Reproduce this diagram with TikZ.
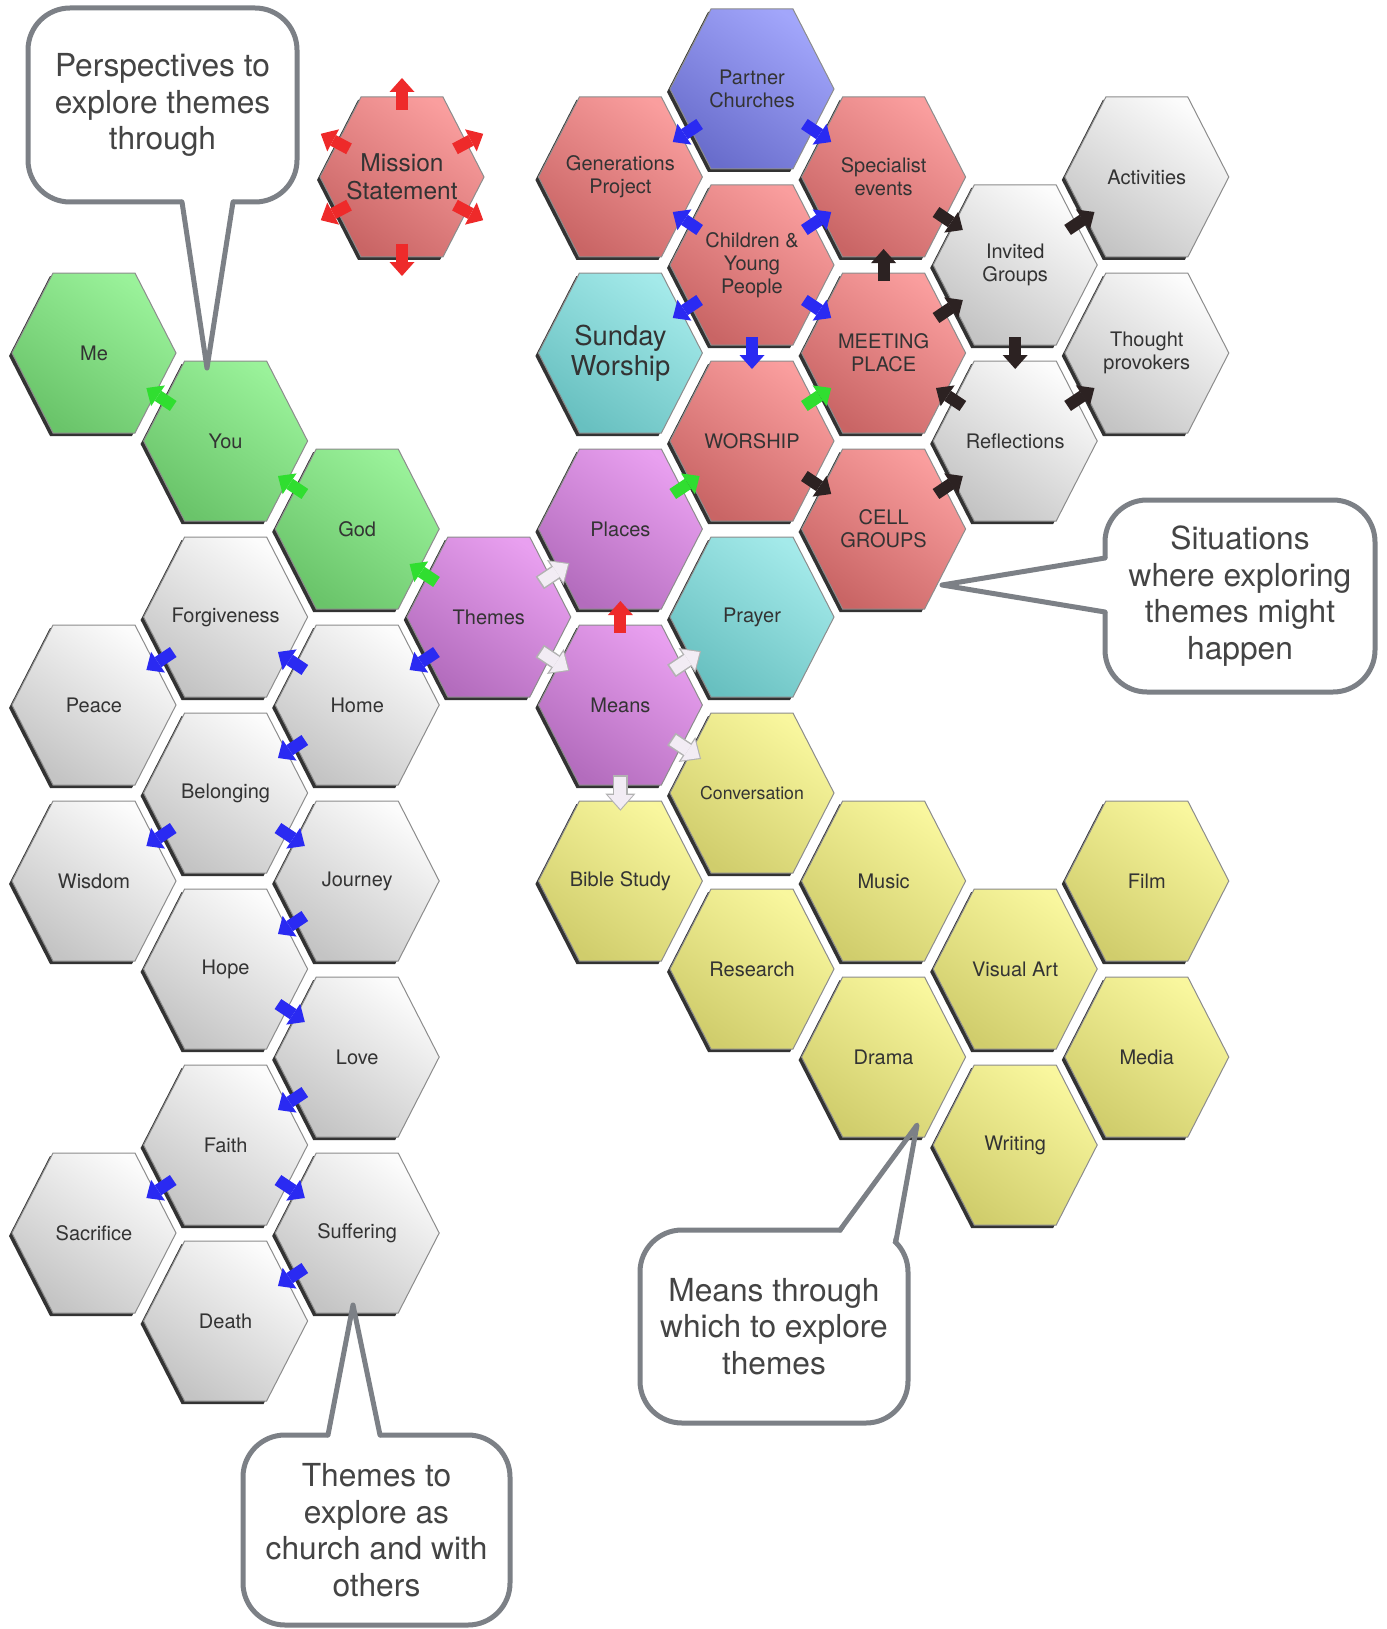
\documentclass[tikz,border=0pt]{standalone}
\usepackage{fontspec}
\setmainfont{TeX Gyre Heros}
\usepackage{tikz}
\usetikzlibrary{arrows.meta, shapes.symbols, shadows, calc}
\usepackage{xcolor}

\definecolor{greenTop}{HTML}{9AF29A}
\definecolor{greenBot}{HTML}{6AC46A}
\definecolor{greyTop}{HTML}{FCFCFC}
\definecolor{greyBot}{HTML}{C4C4C4}
\definecolor{purpleTop}{HTML}{E9A0F0}
\definecolor{purpleBot}{HTML}{B36CBD}
\definecolor{redTop}{HTML}{FA9E9E}
\definecolor{redBot}{HTML}{C96565}
\definecolor{blueTop}{HTML}{A2A6FB}
\definecolor{blueBot}{HTML}{696DCC}
\definecolor{tealTop}{HTML}{A4EAEA}
\definecolor{tealBot}{HTML}{68C0C0}
\definecolor{yellowTop}{HTML}{F9F79E}
\definecolor{yellowBot}{HTML}{D0CD6C}
\definecolor{noteGrey}{HTML}{7C8086}
\definecolor{noteText}{HTML}{444444}
\definecolor{linkBlue}{HTML}{2A2AF2}
\definecolor{linkGreen}{HTML}{30DE30}
\definecolor{linkRed}{HTML}{EE2A2A}
\definecolor{linkBlack}{HTML}{2C2222}
\definecolor{linkWhite}{HTML}{F2ECF4}

\begin{document}
\begin{tikzpicture}[x=1pt, y=-1pt,
    hex/.style={shape=signal, signal to=east and west, signal pointer angle=125.7,
      minimum width=164pt, minimum height=160pt, inner sep=0pt, outer sep=0pt,
      draw=black!45, line width=1pt,
      drop shadow={shadow xshift=-3pt, shadow yshift=-3pt, opacity=.8, fill=black}},
    greenhex/.style={hex, top color=greenTop, bottom color=greenBot, shading angle=-35},
    greyhex/.style={hex, top color=greyTop, bottom color=greyBot, shading angle=-35},
    purplehex/.style={hex, top color=purpleTop, bottom color=purpleBot, shading angle=-35},
    redhex/.style={hex, top color=redTop, bottom color=redBot, shading angle=-35},
    bluehex/.style={hex, top color=blueTop, bottom color=blueBot, shading angle=-35},
    tealhex/.style={hex, top color=tealTop, bottom color=tealBot, shading angle=-35},
    yellowhex/.style={hex, top color=yellowTop, bottom color=yellowBot, shading angle=-35},
    hexlabel/.style={font=\fontsize{20}{23}\selectfont, text=black!80, align=center, inner sep=0pt},
    link/.style={color=#1, line width=12pt, shorten <=63pt, shorten >=63pt,
      -{Triangle[width=25pt, length=14pt, line width=0pt]}},
    vert/.style={shorten <=72pt, shorten >=72pt},
    outline/.style={color=black!30, line width=15pt, shorten <=61.3pt, shorten >=61.3pt,
      -{Triangle[width=30pt, length=17pt, line width=0pt]}},
    note/.style={draw=noteGrey, line width=5pt, rounded corners=42pt, fill=white,
      text=noteText, align=center, font=\fontsize{31.7}{36.5}\selectfont,
      inner sep=0pt, outer sep=0pt},
    tail/.style={draw=noteGrey, line width=5pt, line join=round, line cap=round}]

  \path[use as bounding box, fill=white] (0,0) rectangle (1386,1629);

  % perspectives
  \node[greenhex, label={[hexlabel]center:Me}] (me) at (94,353) {};
  \node[greenhex, label={[hexlabel]center:You}] (you) at (225.6,441) {};
  \node[greenhex, label={[hexlabel]center:God}] (god) at (357.2,529) {};

  % themes
  \node[greyhex, label={[hexlabel]center:Forgiveness}] (forgiveness) at (225.6,617) {};
  \node[greyhex, label={[hexlabel]center:Peace}] (peace) at (94,705) {};
  \node[greyhex, label={[hexlabel]center:Home}] (home) at (357.2,705) {};
  \node[greyhex, label={[hexlabel]center:Belonging}] (belonging) at (225.6,793) {};
  \node[greyhex, label={[hexlabel]center:Wisdom}] (wisdom) at (94,881) {};
  \node[greyhex, label={[hexlabel]center:Journey}] (journey) at (357.2,881) {};
  \node[greyhex, label={[hexlabel]center:Hope}] (hope) at (225.6,969) {};
  \node[greyhex, label={[hexlabel]center:Love}] (love) at (357.2,1057) {};
  \node[greyhex, label={[hexlabel]center:Faith}] (faith) at (225.6,1145) {};
  \node[greyhex, label={[hexlabel]center:Sacrifice}] (sacrifice) at (94,1233) {};
  \node[greyhex, label={[hexlabel]center:Suffering}] (suffering) at (357.2,1233) {};
  \node[greyhex, label={[hexlabel]center:Death}] (death) at (225.6,1321) {};

  % hub
  \node[purplehex, label={[hexlabel]center:Themes}] (themes) at (488.8,617) {};
  \node[purplehex, label={[hexlabel]center:Places}] (places) at (620.4,529) {};
  \node[purplehex, label={[hexlabel]center:Means}] (means) at (620.4,705) {};

  % situations
  \node[redhex, label={[hexlabel, font=\fontsize{24.5}{28}\selectfont]center:Mission\\Statement}] (mission) at (402,177) {};
  \node[bluehex, label={[hexlabel]center:Partner\\Churches}] (partner) at (752,89) {};
  \node[redhex, label={[hexlabel]center:Generations\\Project}] (generations) at (620.4,177) {};
  \node[redhex, label={[hexlabel]center:Specialist\\events}] (specialist) at (883.6,177) {};
  \node[redhex, label={[hexlabel]center:Children \&\\Young\\People}] (children) at (752,265) {};
  \node[tealhex, label={[hexlabel, font=\fontsize{27.4}{30}\selectfont]center:Sunday\\Worship}] (sunday) at (620.4,353) {};
  \node[redhex, label={[hexlabel]center:MEETING\\PLACE}] (meeting) at (883.6,353) {};
  \node[redhex, label={[hexlabel]center:WORSHIP}] (worship) at (752,441) {};
  \node[redhex, label={[hexlabel]center:CELL\\GROUPS}] (cell) at (883.6,529) {};
  \node[tealhex, label={[hexlabel]center:Prayer}] (prayer) at (752,617) {};
  \node[greyhex, label={[hexlabel]center:Activities}] (activities) at (1146.8,177) {};
  \node[greyhex, label={[hexlabel]center:Invited\\Groups}] (invited) at (1015.2,265) {};
  \node[greyhex, label={[hexlabel]center:Thought\\provokers}] (thought) at (1146.8,353) {};
  \node[greyhex, label={[hexlabel]center:Reflections}] (reflections) at (1015.2,441) {};

  % means
  \node[yellowhex, label={[hexlabel, font=\fontsize{17.7}{20}\selectfont]center:Conversation}] (conversation) at (752,793) {};
  \node[yellowhex, label={[hexlabel]center:Bible Study}] (biblestudy) at (620.4,881) {};
  \node[yellowhex, label={[hexlabel]center:Music}] (music) at (883.6,881) {};
  \node[yellowhex, label={[hexlabel]center:Film}] (film) at (1146.8,881) {};
  \node[yellowhex, label={[hexlabel]center:Research}] (research) at (752,969) {};
  \node[yellowhex, label={[hexlabel]center:Visual Art}] (visualart) at (1015.2,969) {};
  \node[yellowhex, label={[hexlabel]center:Drama}] (drama) at (883.6,1057) {};
  \node[yellowhex, label={[hexlabel]center:Media}] (media) at (1146.8,1057) {};
  \node[yellowhex, label={[hexlabel]center:Writing}] (writing) at (1015.2,1145) {};

  % links
  \path[link=linkGreen]
    (you.center) edge (me.center)
    (god.center) edge (you.center)
    (themes.center) edge (god.center)
    (places.center) edge (worship.center)
    (worship.center) edge (meeting.center);

  \path[link=linkBlue]
    (themes.center) edge (home.center)
    (home.center) edge (forgiveness.center)
    (forgiveness.center) edge (peace.center)
    (home.center) edge (belonging.center)
    (belonging.center) edge (wisdom.center)
    (belonging.center) edge (journey.center)
    (journey.center) edge (hope.center)
    (hope.center) edge (love.center)
    (love.center) edge (faith.center)
    (faith.center) edge (sacrifice.center)
    (faith.center) edge (suffering.center)
    (suffering.center) edge (death.center)
    (partner.center) edge (generations.center)
    (partner.center) edge (specialist.center)
    (children.center) edge (generations.center)
    (children.center) edge (specialist.center)
    (children.center) edge (sunday.center)
    (children.center) edge (meeting.center)
    (children.center) edge[vert] (worship.center);

  \path[outline]
    (themes.center) edge (places.center)
    (themes.center) edge (means.center)
    (means.center) edge (prayer.center)
    (means.center) edge (conversation.center)
    (means.center) edge[shorten <=70.3pt, shorten >=70.3pt] (biblestudy.center);
  \path[link=linkWhite]
    (themes.center) edge (places.center)
    (themes.center) edge (means.center)
    (means.center) edge (prayer.center)
    (means.center) edge (conversation.center)
    (means.center) edge[vert] (biblestudy.center);

  \path[link=linkRed]
    (means.center) edge[vert] (places.center);

  \path[link=linkBlack]
    (specialist.center) edge (invited.center)
    (meeting.center) edge[vert] (specialist.center)
    (meeting.center) edge (invited.center)
    (invited.center) edge (activities.center)
    (invited.center) edge[vert] (reflections.center)
    (reflections.center) edge (meeting.center)
    (reflections.center) edge (thought.center)
    (worship.center) edge (cell.center)
    (cell.center) edge (reflections.center);

  \draw[link=linkRed, shorten <=67pt, shorten >=0pt] (mission.center) -- +(90:99);
  \draw[link=linkRed, shorten <=67pt, shorten >=0pt] (mission.center) -- +(-90:99);
  \draw[link=linkRed, shorten <=60pt, shorten >=0pt] (mission.center) -- +(28:92);
  \draw[link=linkRed, shorten <=60pt, shorten >=0pt] (mission.center) -- +(-28:92);
  \draw[link=linkRed, shorten <=60pt, shorten >=0pt] (mission.center) -- +(152:92);
  \draw[link=linkRed, shorten <=60pt, shorten >=0pt] (mission.center) -- +(208:92);

  % callouts
  \node[note, minimum width=269pt, minimum height=194pt] (perspectives) at (162.5,105)
    {Perspectives to\\explore themes\\through};
  \coordinate (perspectives-a) at ($(perspectives.south)+(19.5,0)$);
  \coordinate (perspectives-b) at ($(perspectives.south)+(70.5,0)$);
  \coordinate (perspectives-tip) at (207,368);
  \fill[white] ($(perspectives-a)+(0,-5)$) -- ($(perspectives-a)!.5!(perspectives-tip)$)
    -- ($(perspectives-b)!.5!(perspectives-tip)$) -- ($(perspectives-b)+(0,-5)$) -- cycle;
  \draw[tail] (perspectives-a) -- (perspectives-tip) -- (perspectives-b);

  \node[note, minimum width=270pt, minimum height=192pt] (situations) at (1240,596)
    {Situations\\where exploring\\themes might\\happen};
  \coordinate (situations-a) at ($(situations.west)+(0,-38)$);
  \coordinate (situations-b) at ($(situations.west)+(0,16)$);
  \coordinate (situations-tip) at (942,585);
  \fill[white] ($(situations-a)+(5,0)$) -- ($(situations-a)!.5!(situations-tip)$)
    -- ($(situations-b)!.5!(situations-tip)$) -- ($(situations-b)+(5,0)$) -- cycle;
  \draw[tail] (situations-a) -- (situations-tip) -- (situations-b);

  \node[note, minimum width=268pt, minimum height=193pt] (meansnote) at (774,1326.5)
    {Means through\\which to explore\\themes};
  \coordinate (meansnote-a) at ($(meansnote.north)+(66,0)$);
  \coordinate (meansnote-b) at ($(meansnote.north east)+(-12.3,12.3)$);
  \coordinate (meansnote-tip) at (917,1125);
  \fill[white] ($(meansnote-a)+(0,5)$) -- ($(meansnote-a)!.5!(meansnote-tip)$)
    -- ($(meansnote-b)!.5!(meansnote-tip)$) -- ($(meansnote-b)+(-4,4)$) -- cycle;
  \draw[tail] (meansnote-a) -- (meansnote-tip) -- (meansnote-b);

  \node[note, minimum width=267pt, minimum height=190pt] (themesnote) at (376.5,1530)
    {Themes to\\explore as\\church and with\\others};
  \coordinate (themesnote-a) at ($(themesnote.north)+(-48.5,0)$);
  \coordinate (themesnote-b) at ($(themesnote.north)+(3.5,0)$);
  \coordinate (themesnote-tip) at (353,1305);
  \fill[white] ($(themesnote-a)+(0,5)$) -- ($(themesnote-a)!.5!(themesnote-tip)$)
    -- ($(themesnote-b)!.5!(themesnote-tip)$) -- ($(themesnote-b)+(0,5)$) -- cycle;
  \draw[tail] (themesnote-a) -- (themesnote-tip) -- (themesnote-b);
\end{tikzpicture}
\end{document}
